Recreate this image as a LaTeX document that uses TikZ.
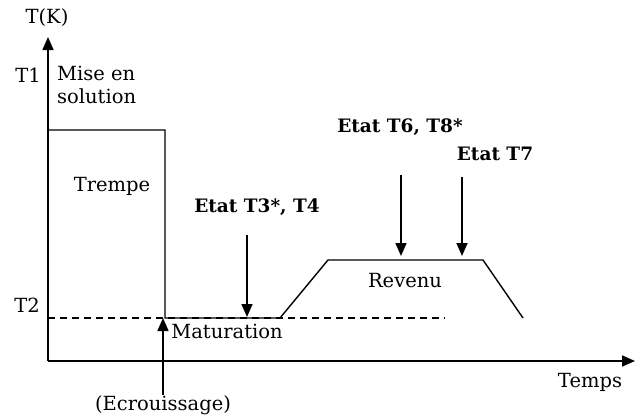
\documentclass[tikz,border=0pt]{standalone}
\usepackage{fontspec}
\setmainfont{DejaVu Serif}
\usetikzlibrary{arrows.meta, positioning}

\begin{document}
\begin{tikzpicture}[
        x=1pt, y=-1pt,
        label/.style={font=\fontsize{19.5}{23}\selectfont, inner sep=0pt},
        state/.style={font=\fontsize{18.5}{22}\selectfont\bfseries, inner sep=0pt},
        axis/.style={-{Triangle[length=13pt, width=11pt]}, line width=1.6pt},
        arrow/.style={-{Triangle[length=13pt, width=11pt]}, line width=1.6pt},
        curve/.style={line width=1.4pt},
        ]
    \useasboundingbox (0,0) rectangle (635,416);

        % Axes
        \coordinate (O) at (48,361);
        \node[label] (TK) at (47,18) {T(K)};
        \coordinate (Ytop) at (48,37);
        \coordinate (Xend) at (635,361);
        \draw[axis] (O) -- (Ytop);
        \draw[axis] (O) -- (Xend);
        \node[label] (Temps) at (590,382) {Temps};
        \node[label] (T1) at (28,75) {T1};
        \node[label] (T2) at (27,305) {T2};

        % Treatment curve
        \coordinate (A) at (48,130);
        \coordinate (B) at (165,130);
        \coordinate (C) at (165,318);
        \coordinate (D) at (280,318);
        \coordinate (E) at (328,260);
        \coordinate (F) at (483,260);
        \coordinate (G) at (523,318);
        \draw[curve] (A) -- (B) -- (C) -- (D) -- (E) -- (F) -- (G);
        \coordinate (DashL) at (48,318);
        \coordinate (DashR) at (445,318);
        \draw[curve, dashed, dash pattern=on 7pt off 5pt] (DashL) -- (DashR);

        % Stage labels
        \node[label, anchor=north west, align=left] (Mise) at (57,66) {Mise en\\solution};
        \node[label] (Trempe) at (112,186) {Trempe};
        \node[label] (Maturation) at (227,331) {Maturation};
        \node[label] (Revenu) at (405,281) {Revenu};
        \node[label] (Ecrouissage) at (163,405) {(Ecrouissage)};

        % States
        \node[state] (T34) at (257,207) {Etat T3*, T4};
        \node[state] (T68) at (400,127) {Etat T6, T8*};
        \node[state] (T7) at (495,154) {Etat T7};

        % Arrows
        \coordinate (T34top) at (247,235);
        \coordinate (T34bot) at (247,317);
        \coordinate (T68top) at (401,175);
        \coordinate (T68bot) at (401,256);
        \coordinate (T7top) at (462,177);
        \coordinate (T7bot) at (462,256);
        \coordinate (Ecr) at (163,318);
        \draw[arrow] (T34top) -- (T34bot);
        \draw[arrow] (T68top) -- (T68bot);
        \draw[arrow] (T7top) -- (T7bot);
        \draw[arrow] (Ecrouissage.north) -- (Ecr);

    \end{tikzpicture}
\end{document}
